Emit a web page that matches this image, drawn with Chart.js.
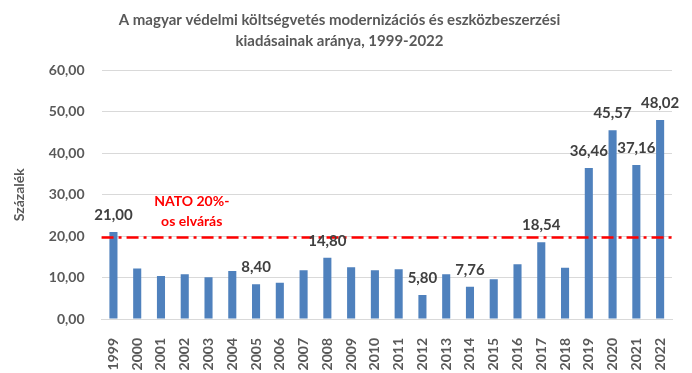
<!DOCTYPE html>
<html>
<head>
<meta charset="utf-8">
<script src="https://cdn.jsdelivr.net/npm/chart.js@4"></script>
<style>
  html, body { margin: 0; padding: 0; background: #fff; }
  #wrap { width: 692px; height: 373px; }
</style>
</head>
<body>
<div id="wrap"><canvas id="chart" width="692" height="373"></canvas></div>
<script>
// Data
const years = ['1999', '2000', '2001', '2002', '2003', '2004', '2005', '2006',
  '2007', '2008', '2009', '2010', '2011', '2012', '2013', '2014', '2015',
  '2016', '2017', '2018', '2019', '2020', '2021', '2022'];
const shares = [21.00, 12.2, 10.4, 10.8, 10.1, 11.6, 8.40, 8.75,
  11.8, 14.80, 12.5, 11.8, 12.0, 5.80, 10.8, 7.76, 9.6,
  13.2, 18.54, 12.4, 36.46, 45.57, 37.16, 48.02];
// years whose value is printed above the bar
const labelledYears = ['1999', '2005', '2008', '2012', '2014', '2017',
  '2019', '2020', '2021', '2022'];
const natoLevel = 19.7;
const natoText = ['NATO 20%-', 'os elvárás'];
const natoTextYear = '2002';

const GRAY = '#595959';
const FONT = 'Lato, "Open Sans", sans-serif';

const fmt = (v) => v.toFixed(2).replace('.', ',');

// red dash-dot NATO line + its caption, and value labels above bars
const overlay = {
  id: 'overlay',
  afterDatasetsDraw(chart) {
    const { ctx, chartArea, scales } = chart;
    const y = scales.y.getPixelForValue(natoLevel);
    ctx.save();
    ctx.strokeStyle = '#FF0000';
    ctx.lineWidth = 2.5;
    ctx.setLineDash([12, 5, 3, 5]);
    ctx.beginPath();
    ctx.moveTo(chartArea.left, y);
    ctx.lineTo(chartArea.right, y);
    ctx.stroke();
    ctx.setLineDash([]);

    ctx.fillStyle = '#FF0000';
    ctx.font = `bold 14px ${FONT}`;
    ctx.textAlign = 'center';
    ctx.textBaseline = 'middle';
    const tx = scales.x.getPixelForValue(years.indexOf(natoTextYear)) + 7;
    ctx.fillText(natoText[0], tx, y - 36);
    ctx.fillText(natoText[1], tx, y - 16);

    const meta = chart.getDatasetMeta(0);
    ctx.fillStyle = '#404040';
    ctx.font = `bold 15px ${FONT}`;
    ctx.textBaseline = 'alphabetic';
    meta.data.forEach((bar, i) => {
      if (!labelledYears.includes(years[i])) return;
      ctx.fillText(fmt(shares[i]), bar.x, bar.y - 12);
    });
    ctx.restore();
  },
};

new Chart(document.getElementById('chart'), {
  type: 'bar',
  data: {
    labels: years,
    datasets: [{
      data: shares,
      backgroundColor: '#4F81BD',
      barPercentage: 0.34,
      categoryPercentage: 1,
    }],
  },
  options: {
    responsive: false,
    animation: false,
    layout: { padding: { left: 7, right: 20, top: 0, bottom: 0 } },
    plugins: {
      legend: { display: false },
      tooltip: { enabled: false },
      title: {
        display: true,
        text: ['A magyar védelmi költségvetés modernizációs és eszközbeszerzési',
          'kiadásainak aránya, 1999-2022'],
        color: GRAY,
        font: { family: FONT, size: 15, weight: 'bold', lineHeight: 1.45 },
        padding: { top: 9, bottom: 18 },
      },
    },
    scales: {
      x: {
        grid: { display: false },
        border: { display: true, color: '#d9d9d9' },
        ticks: {
          color: GRAY,
          font: { family: FONT, size: 14, weight: 'bold' },
          minRotation: 90,
          maxRotation: 90,
          autoSkip: false,
          padding: 11,
        },
        afterFit: (scale) => { scale.height = 54; },
      },
      y: {
        min: 0,
        max: 60,
        ticks: {
          stepSize: 10,
          color: GRAY,
          font: { family: FONT, size: 14, weight: 'bold' },
          padding: 17,
          callback: (v) => fmt(v),
        },
        grid: { color: '#d9d9d9', drawTicks: false },
        border: { display: false },
        title: {
          display: true,
          text: 'Százalék',
          color: GRAY,
          font: { family: FONT, size: 14, weight: 'bold' },
          padding: { bottom: 4 },
        },
      },
    },
  },
  plugins: [overlay],
});
</script>
</body>
</html>
